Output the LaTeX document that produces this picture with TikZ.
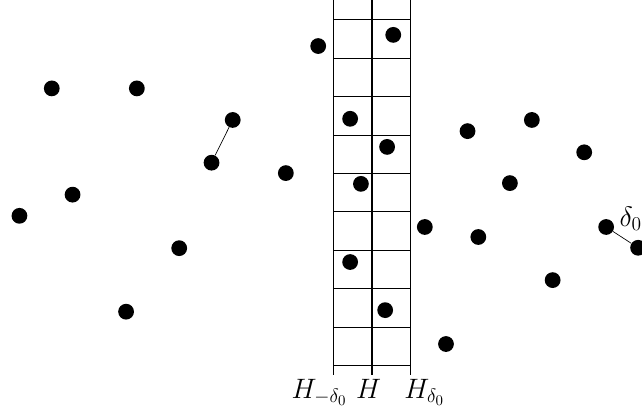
\documentclass[tikz,border=0pt]{standalone}
\usepackage{tikz}
\usetikzlibrary{positioning}
\usepackage{amsmath, amssymb}
\colorlet{ink}{black}
\tikzset{
  pt/.style      ={circle, fill=ink, inner sep=0pt, minimum size=4.1mm},
  gridline/.style={ink, line width=0.7pt},
  midline/.style ={ink, line width=1.2pt},
  pair/.style    ={-, ink, line width=0.5pt},
  lbl/.style     ={font=\fontsize{21}{25}\selectfont, inner sep=0pt},
}
\begin{document}
\begin{tikzpicture}
\useasboundingbox (-9.655,-1.091) rectangle (7.021,9.506);

% strip of width 2 delta_0 around H
\foreach \k in {0,...,9}
  \draw[gridline] (-1,\k) -- (1,\k);
\draw[gridline] (-1,-0.23) -- (-1,9.6);
\draw[gridline] (1,-0.23) -- (1,9.6);
\draw[midline] (0,-0.23) -- (0,9.6);

\node[lbl, anchor=base east] (Hm) at (-0.64,-0.84) {$H_{-\delta_0}$};
\node[lbl, anchor=base] (H0) at (-0.08,-0.84) {$H$};
\node[lbl, anchor=base west] (Hp) at (0.84,-0.84) {$H_{\delta_0}$};

% left half
\foreach \x/\y/\n in {-8.31/7.21/l1, -6.10/7.21/l2, -3.61/6.39/l3,
                      -4.16/5.28/l4, -2.23/5.01/l5, -7.77/4.45/l6,
                      -9.15/3.90/l7, -5.00/3.06/l8, -6.38/1.41/l9}
  \node[pt] (\n) at (\x,\y) {};

% inside / near the strip
\foreach \x/\y/\n in {-1.39/8.31/s1, 0.56/8.60/s2, -0.56/6.42/s3,
                      0.40/5.69/s4, -0.28/4.73/s5, -0.56/2.70/s6,
                      0.35/1.45/s7, 1.38/3.61/s8, 1.93/0.57/s9}
  \node[pt] (\n) at (\x,\y) {};

% right half
\foreach \x/\y/\n in {2.49/6.10/r1, 4.16/6.39/r2, 5.52/5.55/r3,
                      3.59/4.75/r4, 2.77/3.35/r5, 4.70/2.23/r6,
                      6.09/3.61/r7, 6.92/3.07/r8}
  \node[pt] (\n) at (\x,\y) {};

\draw[pair] (l3) -- (l4);
\draw[pair] (r7) -- (r8);
\node[lbl, anchor=base west] (d0) at (6.43,3.62) {$\delta_0$};

\end{tikzpicture}
\end{document}
